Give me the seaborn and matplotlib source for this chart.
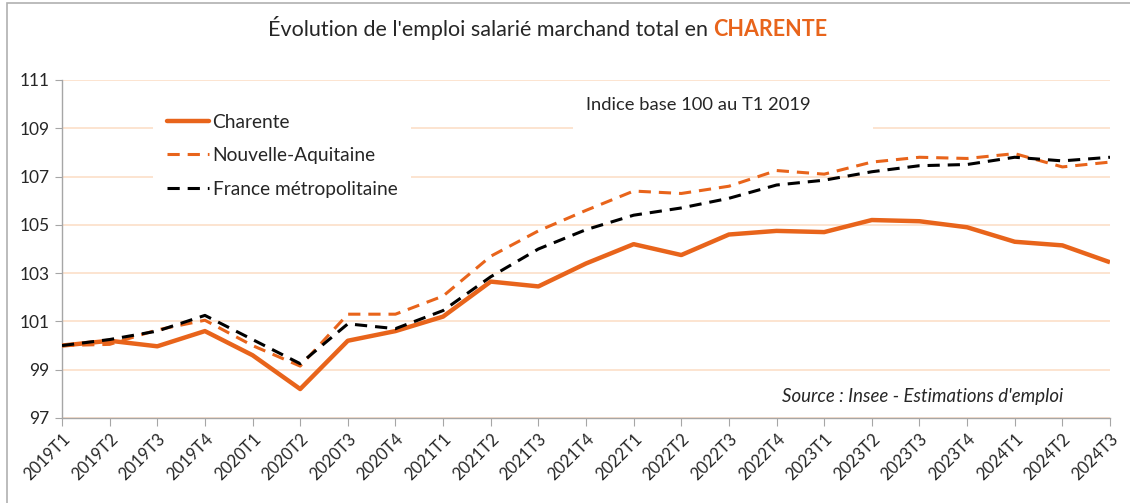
import pandas as pd
import matplotlib.pyplot as plt
import seaborn as sns
from matplotlib.patches import Rectangle
from matplotlib.lines import Line2D

# Data (indice base 100 au T1 2019)
trimestres = ["2019T1", "2019T2", "2019T3", "2019T4",
              "2020T1", "2020T2", "2020T3", "2020T4",
              "2021T1", "2021T2", "2021T3", "2021T4",
              "2022T1", "2022T2", "2022T3", "2022T4",
              "2023T1", "2023T2", "2023T3", "2023T4",
              "2024T1", "2024T2", "2024T3"]
charente = [100.0, 100.2, 99.97, 100.6, 99.6, 98.2, 100.2, 100.6,
            101.2, 102.65, 102.45, 103.4, 104.2, 103.75, 104.6, 104.75,
            104.7, 105.2, 105.15, 104.9, 104.3, 104.15, 103.45]
nouvelle_aquitaine = [100.0, 100.05, 100.65, 101.05, 100.0, 99.15, 101.3, 101.3,
                      102.05, 103.7, 104.75, 105.6, 106.4, 106.3, 106.6, 107.25,
                      107.1, 107.6, 107.8, 107.75, 107.95, 107.4, 107.6]
france = [100.0, 100.25, 100.6, 101.25, 100.25, 99.25, 100.9, 100.7,
          101.45, 102.85, 104.0, 104.8, 105.4, 105.7, 106.1, 106.65,
          106.85, 107.2, 107.45, 107.5, 107.8, 107.65, 107.8]
series_names = ["Charente", "Nouvelle-Aquitaine", "France métropolitaine"]

ORANGE = "#E8641B"
GRID = "#FCDCC4"
AXIS = "#A6A6A6"

sns.set_style("white")
plt.rcParams['font.family'] = ['Lato', 'DejaVu Sans']

df = pd.DataFrame({"trimestre": trimestres * 3,
                   "indice": charente + nouvelle_aquitaine + france,
                   "serie": [s for s in series_names for _ in trimestres]})

fig = plt.figure(figsize=(11.3, 5.03), dpi=100)
ax = fig.add_axes([62 / 1130, 1 - 418 / 503, (1110 - 62) / 1130, (418 - 80) / 503])

palette = {"Charente": ORANGE, "Nouvelle-Aquitaine": ORANGE, "France métropolitaine": "black"}
dashes = {"Charente": "", "Nouvelle-Aquitaine": (4, 2.6), "France métropolitaine": (4, 2.6)}
sns.lineplot(data=df, x="trimestre", y="indice", hue="serie", style="serie",
             palette=palette, dashes=dashes, sort=False, ax=ax, legend=False, zorder=3)
for line, lw in zip(ax.get_lines(), [3.2, 2.2, 2.2]):
    line.set_linewidth(lw)
    line.set_solid_capstyle("butt")
    line.set_dash_capstyle("butt")

# axes styling
ax.set_xlim(0, len(trimestres) - 1)
ax.set_ylim(97, 111)
ax.set_yticks(range(97, 112, 2))
ax.set_xticks(range(len(trimestres)))
ax.set_xticklabels(trimestres, rotation=45, ha="right", rotation_mode="anchor", fontsize=12)
ax.tick_params(axis="y", labelsize=12.5, length=5, color=AXIS, direction="out", pad=4, left=True)
ax.tick_params(axis="x", length=6, color=AXIS, direction="out", pad=3, bottom=True)
ax.set_xlabel("")
ax.set_ylabel("")
ax.grid(axis="y", color=GRID, linewidth=1.1)
ax.set_axisbelow(True)
for side in ["top", "right"]:
    ax.spines[side].set_visible(False)
for side in ["left", "bottom"]:
    ax.spines[side].set_color(AXIS)
    ax.spines[side].set_linewidth(1.0)

# legend (white box hides gridlines)
handles = [Line2D([], [], color=ORANGE, lw=3.2),
           Line2D([], [], color=ORANGE, lw=2.2, dashes=(4, 2.6)),
           Line2D([], [], color="black", lw=2.2, dashes=(4, 2.6))]
leg = ax.legend(handles, series_names, loc="upper left", bbox_to_anchor=(0.087, 0.94),
                fontsize=13.8, frameon=True, facecolor="white", edgecolor="none",
                framealpha=1, handlelength=2.2, handletextpad=0.2,
                labelspacing=0.86, borderpad=0.7, borderaxespad=0)
leg.set_zorder(5)

# white box behind the base-index note, then the notes
ax.add_patch(Rectangle((0.4876, 0.822), 0.2866, 0.148, transform=ax.transAxes,
                       facecolor="white", edgecolor="none", zorder=1))
ax.text(0.5, 0.925, "Indice base 100 au T1 2019", transform=ax.transAxes,
        fontsize=13.2, ha="left", va="center", zorder=6)
ax.text(0.955, 0.065, "Source : Insee - Estimations d'emploi", transform=ax.transAxes,
        fontsize=13.4, style="italic", ha="right", va="center")

# title in two colours
t1 = fig.text(0.237, 0.945, "Évolution de l'emploi salarié marchand total en ",
              fontsize=15.5, ha="left", va="center")
ax.annotate("CHARENTE", xy=(1, 0), xycoords=t1, fontsize=15.5, fontweight="bold",
            color=ORANGE, ha="left", va="bottom", annotation_clip=False)

# outer frame
fig.patches.append(Rectangle((7 / 1130, -0.1), 1.2, 1.1 - 3 / 503,
                             transform=fig.transFigure, fill=False,
                             edgecolor="#B0B0B0", linewidth=1.2))

fig.savefig("out.png", dpi=100)
